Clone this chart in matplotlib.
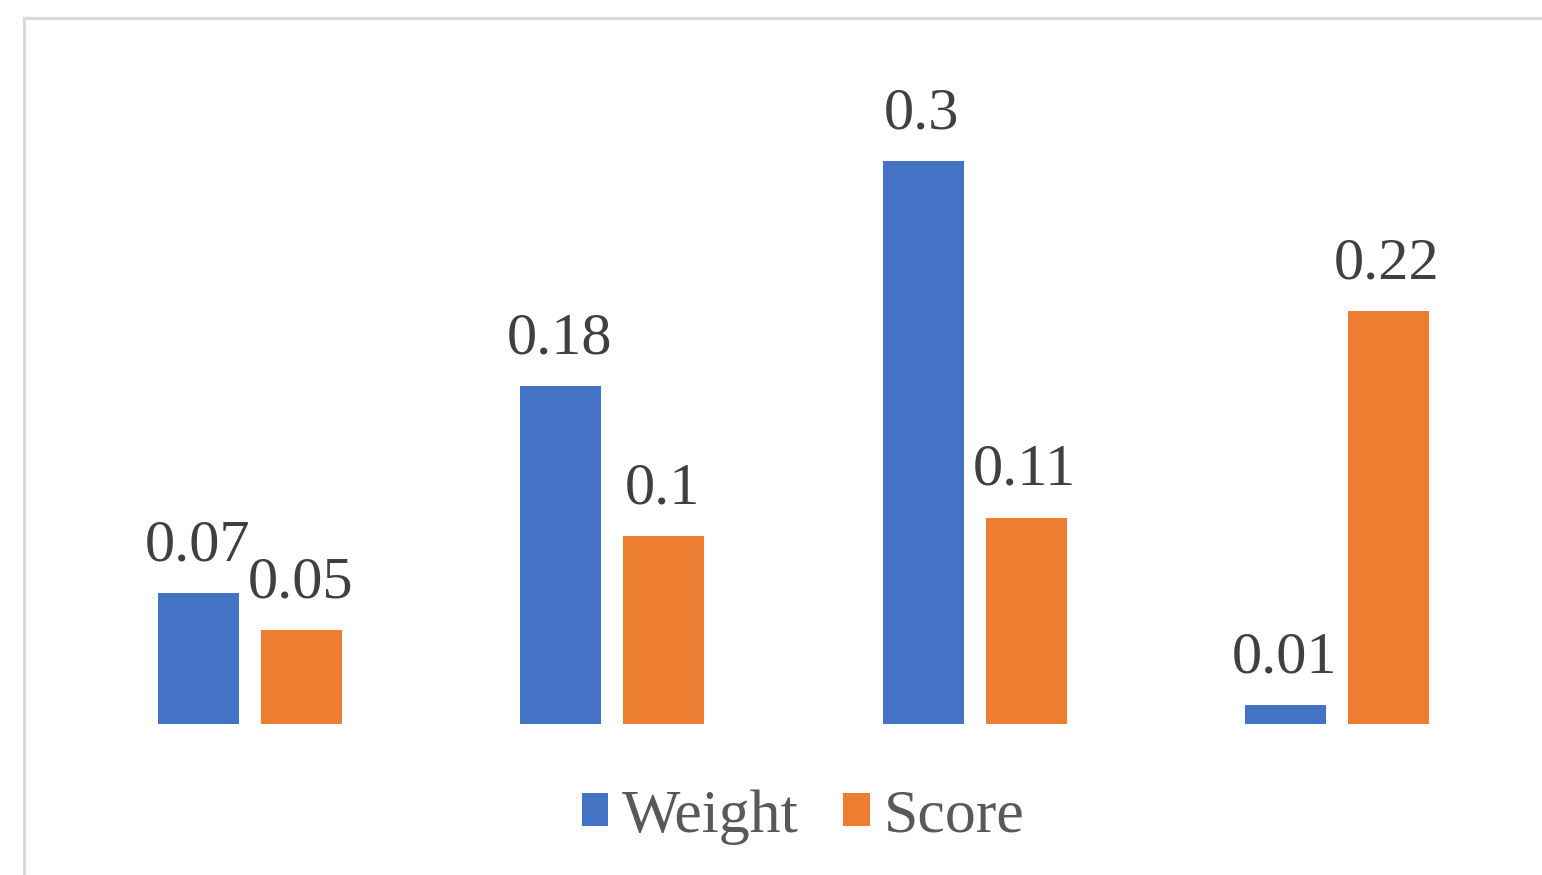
import matplotlib
matplotlib.use("Agg")
import matplotlib.pyplot as plt
from matplotlib.patches import Patch, Rectangle
import numpy as np

categories = ["A", "B", "C", "D"]
weight = [0.07, 0.18, 0.30, 0.01]
score = [0.05, 0.10, 0.11, 0.22]
series_names = ["Weight", "Score"]
colors = ["#4472C4", "#ED7D31"]

W, H, DPI = 1542, 875, 100
plt.rcParams["font.family"] = ["Liberation Serif", "DejaVu Serif"]

fig = plt.figure(figsize=(W / DPI, H / DPI), dpi=DPI)
fig.patch.set_facecolor("white")

# chart area frame (light gray, running off the right and bottom edges)
fig.add_artist(Rectangle((23.5 / W, -0.1), 2.0, 1 - 18 / H + 0.1,
                         transform=fig.transFigure, fill=False,
                         edgecolor="#d9d9d9", linewidth=2.3, zorder=0))

ax = fig.add_axes([69 / W, (H - 724) / H, 1449 / W, 656.8 / H])
ax.set_xlim(-0.5, 3.5)
ax.set_ylim(0, 0.35)
ax.axis("off")

x = np.arange(len(categories))
bw = 0.2236
off = 0.1421
label_color = "#404040"
for vals, dx, c in [(weight, -off, colors[0]), (score, off, colors[1])]:
    bars = ax.bar(x + dx, vals, width=bw, color=c, linewidth=0)
    for xi, v in zip(x + dx, vals):
        ax.annotate(f"{v:g}", (xi, v), xytext=(-1, 23.5), textcoords="offset points",
                    ha="center", va="baseline", fontsize=43.5, color=label_color)

handles = [Patch(facecolor=c, edgecolor="none") for c in colors]
fig.legend(handles, series_names, loc="center",
           bbox_to_anchor=(803 / W, 1 - 817 / H), ncol=2, frameon=False,
           fontsize=44.5, handlelength=0.43, handleheight=0.43,
           handletextpad=0.22, columnspacing=0.72, labelcolor="#595959")

fig.savefig("out.png", dpi=DPI, facecolor="white")
